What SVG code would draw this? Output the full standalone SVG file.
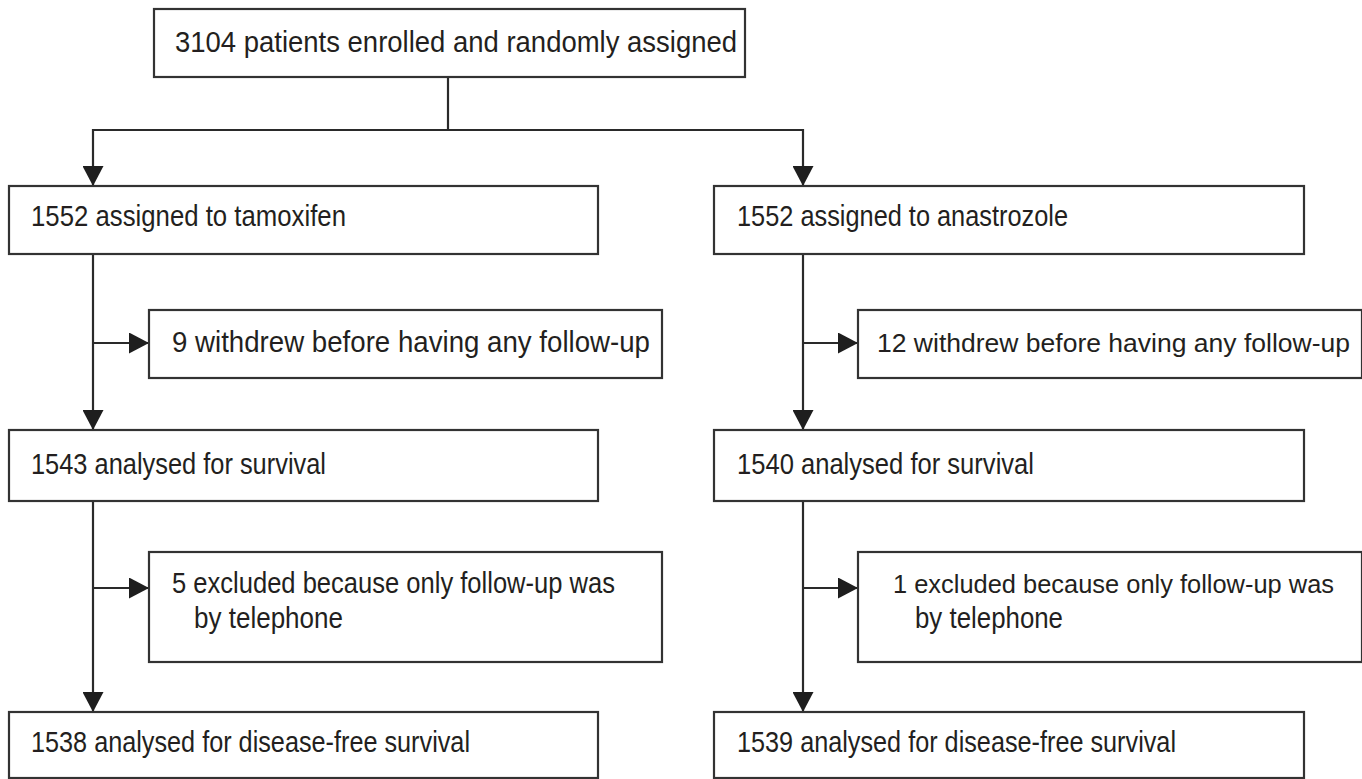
<svg xmlns="http://www.w3.org/2000/svg" width="1362" height="779" viewBox="0 0 1362 779">
<style>
.box{fill:#fff;stroke:#333;stroke-width:2.2}
.t{font-family:"Liberation Sans",Arial,sans-serif;font-size:29px;fill:#231f20}
.n{font-size:25.5px}
.c{fill:none;stroke:#2a2a2a;stroke-width:2.2}
</style>
<defs>
<marker id="ah" markerUnits="userSpaceOnUse" viewBox="0 0 20 21" refX="20" refY="10.5" markerWidth="20" markerHeight="21" orient="auto">
<path d="M0,0 L20,10.5 L0,21 z" fill="#1e1e1e"/>
</marker>
</defs>
<rect width="1362" height="779" fill="#fff"/>
<g id="connectors">
<path class="c" d="M448,77 V130"/>
<path class="c" d="M448,130 H93 V186" marker-end="url(#ah)"/>
<path class="c" d="M448,130 H803 V186" marker-end="url(#ah)"/>
<path class="c" d="M93,254 V430" marker-end="url(#ah)"/>
<path class="c" d="M93,343 H149" marker-end="url(#ah)"/>
<path class="c" d="M803,254 V430" marker-end="url(#ah)"/>
<path class="c" d="M803,343 H858" marker-end="url(#ah)"/>
<path class="c" d="M93,501 V712" marker-end="url(#ah)"/>
<path class="c" d="M93,588 H149" marker-end="url(#ah)"/>
<path class="c" d="M803,501 V712" marker-end="url(#ah)"/>
<path class="c" d="M803,588 H858" marker-end="url(#ah)"/>
</g>
<g id="enrolled">
<rect class="box" x="154" y="9" width="591" height="68"/>
<text class="t" x="175" y="52" textLength="562" lengthAdjust="spacingAndGlyphs">3104 patients enrolled and randomly assigned</text>
</g>
<g id="tamoxifen">
<rect class="box" x="9" y="186" width="589" height="68"/>
<text class="t" x="31" y="226" textLength="315" lengthAdjust="spacingAndGlyphs">1552 assigned to tamoxifen</text>
</g>
<g id="anastrozole">
<rect class="box" x="714" y="186" width="590" height="68"/>
<text class="t" x="737" y="226" textLength="331" lengthAdjust="spacingAndGlyphs">1552 assigned to anastrozole</text>
</g>
<g id="withdrew-tam">
<rect class="box" x="149" y="310" width="513" height="68"/>
<text class="t" x="172" y="352" textLength="478" lengthAdjust="spacingAndGlyphs">9 withdrew before having any follow-up</text>
</g>
<g id="withdrew-ana">
<rect class="box" x="858" y="310" width="504" height="68"/>
<text class="t n" x="877" y="352" textLength="473" lengthAdjust="spacingAndGlyphs">12 withdrew before having any follow-up</text>
</g>
<g id="survival-tam">
<rect class="box" x="9" y="430" width="589" height="71"/>
<text class="t" x="31" y="474" textLength="295" lengthAdjust="spacingAndGlyphs">1543 analysed for survival</text>
</g>
<g id="survival-ana">
<rect class="box" x="714" y="430" width="590" height="71"/>
<text class="t" x="737" y="474" textLength="297" lengthAdjust="spacingAndGlyphs">1540 analysed for survival</text>
</g>
<g id="excluded-tam">
<rect class="box" x="149" y="552" width="513" height="110"/>
<text class="t" x="172" y="593" textLength="443" lengthAdjust="spacingAndGlyphs">5 excluded because only follow-up was</text>
<text class="t" x="194" y="628" textLength="149" lengthAdjust="spacingAndGlyphs">by telephone</text>
</g>
<g id="excluded-ana">
<rect class="box" x="858" y="552" width="504" height="110"/>
<text class="t n" x="893" y="593" textLength="441" lengthAdjust="spacingAndGlyphs">1 excluded because only follow-up was</text>
<text class="t" x="915" y="628" textLength="148" lengthAdjust="spacingAndGlyphs">by telephone</text>
</g>
<g id="dfs-tam">
<rect class="box" x="9" y="712" width="589" height="66"/>
<text class="t" x="31" y="752" textLength="439" lengthAdjust="spacingAndGlyphs">1538 analysed for disease-free survival</text>
</g>
<g id="dfs-ana">
<rect class="box" x="714" y="712" width="590" height="66"/>
<text class="t" x="737" y="752" textLength="439" lengthAdjust="spacingAndGlyphs">1539 analysed for disease-free survival</text>
</g>
</svg>
